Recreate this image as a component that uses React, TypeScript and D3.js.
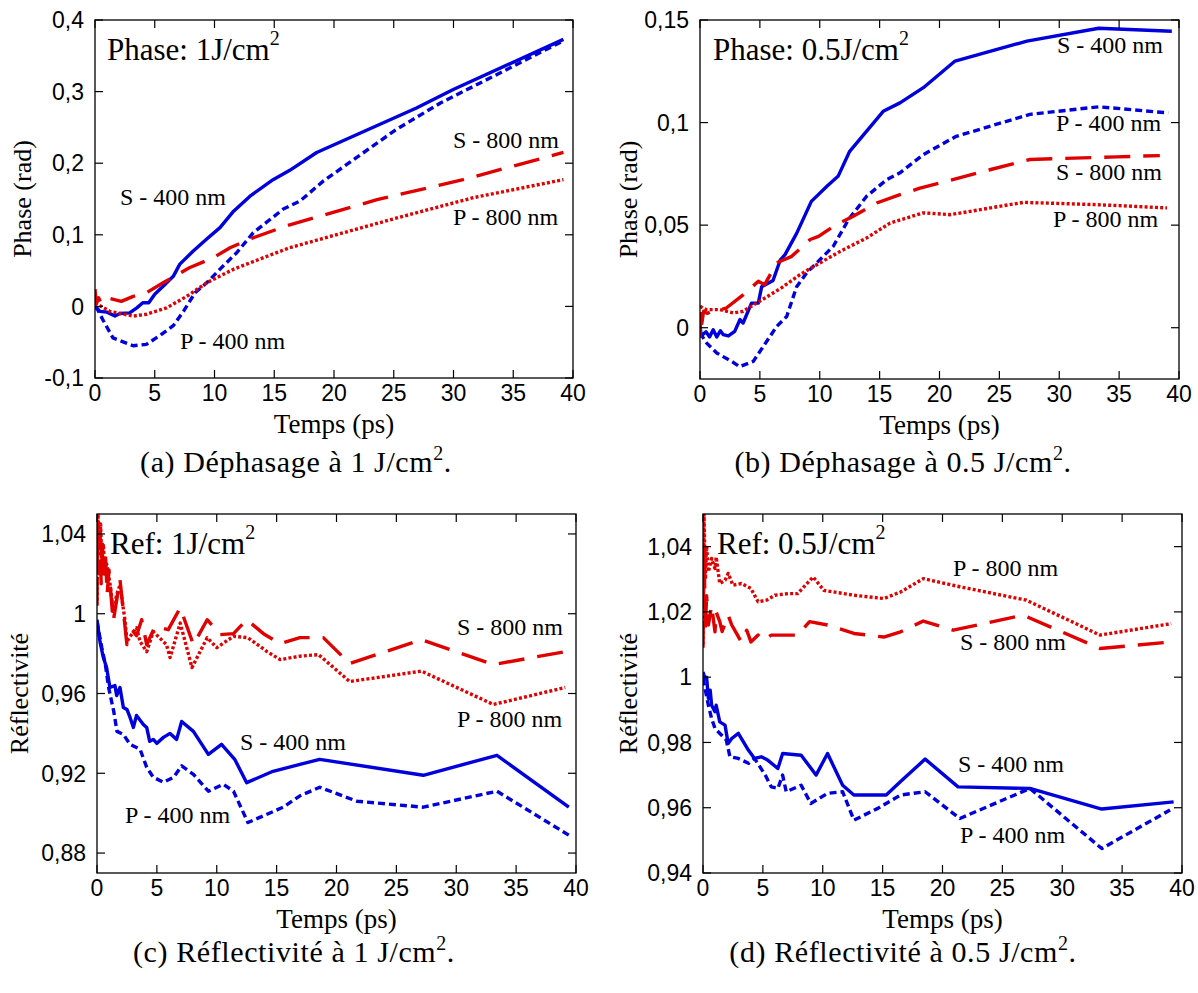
import React from 'react';
import * as d3 from 'd3';

type Pt = [number, number];

// ---------- shared axis data ----------
const X_TICKS = [0, 5, 10, 15, 20, 25, 30, 35, 40];
const X_TICK_LABELS = ['0', '5', '10', '15', '20', '25', '30', '35', '40'];

// ---------- (a) Phase 1 J/cm2 ----------
const A_Y_TICKS = [-0.1, 0, 0.1, 0.2, 0.3, 0.4];
const A_Y_LABELS = ['-0,1', '0', '0,1', '0,2', '0,3', '0,4'];
const A_S400: Pt[] = [[0, 0], [0.42, -0.007], [1.0, -0.008], [1.67, -0.0135], [2.1, -0.01], [2.9, -0.009], [3.5, -0.002], [4.0, 0.005], [4.5, 0.005], [5.0, 0.017], [5.7, 0.028], [6.55, 0.042], [7.1, 0.059], [8.2, 0.077], [9.35, 0.094], [10.46, 0.11], [11.6, 0.133], [12.97, 0.154], [14.9, 0.177], [16.3, 0.19], [18.55, 0.215], [26.9, 0.277], [29.98, 0.303], [39.2, 0.373]];
const A_P400: Pt[] = [[0, -0.002], [0.14, -0.002], [0.7, -0.02], [1.5, -0.044], [3.2, -0.055], [4.3, -0.053], [5.4, -0.041], [6.55, -0.027], [7.4, -0.007], [8.37, 0.019], [9.35, 0.033], [10.46, 0.052], [11.86, 0.075], [13.25, 0.103], [15.76, 0.136], [17.15, 0.147], [19.1, 0.175], [21.9, 0.208], [25.2, 0.247], [28.9, 0.284], [33.05, 0.319], [39.2, 0.371]];
const A_S800: Pt[] = [[0, 0.024], [0.1, 0.003], [0.3, 0.012], [0.5, 0.005], [0.8, 0.01], [1.0, 0.012], [2.2, 0.007], [3.2, 0.014], [4.3, 0.019], [5.7, 0.033], [7.9, 0.054], [9.9, 0.068], [11.3, 0.082], [13.25, 0.096], [16.3, 0.114], [23.6, 0.149], [30.8, 0.177], [39.2, 0.215]];
const A_P800: Pt[] = [[0, 0.005], [1.25, -0.007], [3.2, -0.0135], [4.3, -0.011], [6.0, -0.002], [7.67, 0.014], [9.35, 0.033], [11.6, 0.052], [14.4, 0.07], [16.3, 0.082], [24.7, 0.121], [31.7, 0.152], [39.2, 0.177]];

// ---------- (b) Phase 0.5 J/cm2 ----------
const B_Y_TICKS = [0, 0.05, 0.1, 0.15];
const B_Y_LABELS = ['0', '0,05', '0,1', '0,15'];
const B_S400: Pt[] = [[0, 0.0015], [0.1, -0.004], [0.5, -0.002], [0.8, -0.0045], [1.1, -0.001], [1.4, -0.0045], [1.7, -0.0015], [1.95, -0.0034], [2.37, -0.004], [2.9, -0.0018], [3.34, 0.004], [3.6, 0.0023], [4.3, 0.012], [4.87, 0.012], [5.15, 0.02], [6.1, 0.023], [6.7, 0.033], [7.1, 0.0356], [8.07, 0.046], [9.3, 0.0616], [10.6, 0.069], [11.55, 0.074], [12.5, 0.086], [15.3, 0.1055], [16.7, 0.1096], [18.65, 0.117], [21.3, 0.13], [27.3, 0.1397], [33.3, 0.146], [39.4, 0.1445]];
const B_P400: Pt[] = [[0, -0.0026], [0.56, -0.0075], [1.4, -0.0123], [2.8, -0.017], [3.3, -0.019], [4.45, -0.0164], [5.3, -0.009], [6.4, 0.0006], [7.24, 0.0055], [8.07, 0.02], [8.9, 0.0267], [9.75, 0.0316], [11.13, 0.0397], [12.4, 0.0527], [13.9, 0.064], [15.6, 0.0722], [16.7, 0.0755], [18.65, 0.0844], [21.4, 0.0933], [27.55, 0.104], [33.3, 0.1077], [39.1, 0.1047]];
const B_S800: Pt[] = [[0, -0.005], [0.05, 0.0096], [0.15, 0.002], [0.3, 0.008], [0.6, 0.007], [1.0, 0.008], [1.67, 0.0088], [2.2, 0.0096], [3.6, 0.016], [4.87, 0.0226], [5.4, 0.021], [6.4, 0.0316], [7.66, 0.0348], [9.2, 0.043], [9.9, 0.0445], [11.3, 0.05], [12.8, 0.0543], [14.75, 0.0608], [16.7, 0.0649], [18.37, 0.068], [20.6, 0.0714], [24.2, 0.077], [27.55, 0.082], [34.8, 0.0833], [38.4, 0.0839]];
const B_P800: Pt[] = [[0, 0.0104], [0.56, 0.0088], [1.67, 0.0088], [2.78, 0.0072], [3.6, 0.008], [4.73, 0.012], [5.85, 0.016], [6.8, 0.0194], [8.35, 0.0259], [9.75, 0.0307], [11.7, 0.0372], [13.9, 0.0437], [15.87, 0.051], [18.65, 0.056], [20.9, 0.0551], [27.0, 0.0611], [33.1, 0.06], [39.0, 0.0584]];

// ---------- (c) Reflectivity 1 J/cm2 ----------
const C_Y_TICKS = [0.88, 0.92, 0.96, 1, 1.04];
const C_Y_LABELS = ['0,88', '0,92', '0,96', '1', '1,04'];
const C_S400: Pt[] = [[0, 0.997], [0.25, 0.986], [0.53, 0.978], [0.8, 0.973], [1.08, 0.963], [1.5, 0.964], [1.64, 0.959], [1.92, 0.963], [2.2, 0.953], [2.5, 0.952], [2.76, 0.948], [3.04, 0.943], [3.3, 0.949], [3.87, 0.9445], [4.15, 0.943], [4.4, 0.936], [4.7, 0.937], [5.0, 0.935], [5.55, 0.938], [6.1, 0.94], [6.65, 0.937], [7.07, 0.946], [8.05, 0.941], [9.3, 0.9295], [10.4, 0.9345], [11.5, 0.927], [12.5, 0.9153], [14.7, 0.921], [16.95, 0.9245], [18.6, 0.927], [27.25, 0.919], [33.4, 0.929], [39.4, 0.903]];
const C_P400: Pt[] = [[0, 0.996], [0.4, 0.983], [0.7, 0.9745], [0.97, 0.963], [1.4, 0.951], [1.67, 0.941], [2.2, 0.9395], [2.76, 0.9345], [3.6, 0.932], [4.15, 0.923], [4.7, 0.918], [5.55, 0.9155], [6.4, 0.918], [7.07, 0.9237], [8.05, 0.9195], [9.3, 0.911], [10.55, 0.9145], [11.4, 0.911], [12.6, 0.8953], [15.55, 0.903], [16.95, 0.9087], [18.6, 0.913], [21.7, 0.906], [27.25, 0.903], [33.4, 0.911], [39.4, 0.889]];
const C_S800: Pt[] = [[0, 1.005], [0.05, 1.045], [0.15, 1.02], [0.25, 1.04], [0.35, 1.015], [0.45, 1.035], [0.55, 1.02], [0.7, 1.03], [0.85, 1.01], [1.0, 1.022], [1.35, 0.996], [1.92, 1.017], [2.5, 0.9845], [3.04, 0.991], [3.3, 0.989], [3.73, 0.997], [4.15, 0.9845], [4.85, 0.9937], [5.95, 0.992], [6.95, 1.003], [8.05, 0.9845], [9.2, 0.997], [10.3, 0.9895], [11.4, 0.99], [12.5, 0.997], [13.9, 0.99], [15.3, 0.985], [16.95, 0.988], [18.9, 0.988], [21.1, 0.975], [27.1, 0.987], [33.1, 0.9745], [39.1, 0.981]];
const C_P800: Pt[] = [[0, 1.004], [0.08, 1.05], [0.2, 1.03], [0.3, 1.045], [0.4, 1.025], [0.53, 1.035], [0.65, 1.02], [0.8, 1.025], [1.1, 1.0145], [1.35, 1.0012], [1.64, 1.0095], [1.92, 1.0145], [2.35, 0.996], [2.5, 0.986], [3.04, 0.991], [3.3, 0.993], [3.6, 0.986], [4.15, 0.981], [4.7, 0.991], [5.8, 0.9845], [6.1, 0.978], [6.95, 0.9953], [7.93, 0.973], [9.2, 0.988], [10.0, 0.983], [11.4, 0.9887], [12.6, 0.988], [14.2, 0.981], [15.3, 0.977], [16.95, 0.9787], [18.5, 0.9795], [21.1, 0.966], [27.1, 0.9712], [33.1, 0.9545], [39.1, 0.963]];

// ---------- (d) Reflectivity 0.5 J/cm2 ----------
const D_Y_TICKS = [0.94, 0.96, 0.98, 1, 1.02, 1.04];
const D_Y_LABELS = ['0,94', '0,96', '0,98', '1', '1,02', '1,04'];
const D_S400: Pt[] = [[0, 1.0016], [0.17, 0.9996], [0.3, 1.0], [0.45, 0.9935], [0.6, 0.996], [0.72, 0.9914], [1.0, 0.9894], [1.1, 0.9914], [1.4, 0.9863], [1.84, 0.9853], [2.1, 0.9797], [2.4, 0.9812], [2.95, 0.9828], [3.8, 0.9776], [4.3, 0.9751], [4.87, 0.9756], [5.4, 0.9746], [6.25, 0.972], [6.65, 0.9766], [8.2, 0.9761], [9.44, 0.97], [10.4, 0.9766], [11.66, 0.9669], [12.6, 0.9639], [15.3, 0.9639], [16.5, 0.968], [18.55, 0.9749], [21.3, 0.9664], [27.3, 0.9659], [33.3, 0.9596], [39.3, 0.9618]];
const D_P400: Pt[] = [[0, 0.9996], [0.45, 0.9914], [0.72, 0.9873], [1.0, 0.9843], [1.56, 0.9822], [1.95, 0.9807], [2.25, 0.9756], [2.95, 0.9751], [3.8, 0.9736], [4.3, 0.9751], [5.2, 0.97], [5.7, 0.9664], [6.25, 0.9659], [6.65, 0.97], [6.95, 0.9649], [8.2, 0.9669], [9.0, 0.9613], [10.4, 0.9644], [11.66, 0.9649], [12.6, 0.9562], [14.6, 0.9598], [16.5, 0.9639], [18.55, 0.9649], [21.45, 0.9567], [27.3, 0.9659], [33.3, 0.9475], [39.0, 0.9593]];
const D_S800: Pt[] = [[0, 1.009], [0.08, 1.04], [0.2, 1.015], [0.3, 1.025], [0.45, 1.016], [0.72, 1.022], [1.0, 1.0139], [1.1, 1.02], [1.4, 1.017], [1.6, 1.014], [2.1, 1.019], [2.4, 1.016], [2.8, 1.0134], [3.2, 1.0108], [3.65, 1.0144], [4.0, 1.0108], [4.6, 1.0129], [5.0, 1.0113], [5.7, 1.0129], [7.9, 1.0129], [8.9, 1.017], [10.4, 1.016], [12.6, 1.0134], [15.1, 1.0123], [16.5, 1.0139], [18.4, 1.0172], [20.9, 1.0144], [26.75, 1.019], [33.15, 1.0088], [39.1, 1.0108]];
const D_P800: Pt[] = [[0, 1.01], [0.08, 1.05], [0.2, 1.03], [0.3, 1.04], [0.45, 1.0323], [0.72, 1.0364], [1.0, 1.0333], [1.1, 1.0368], [1.4, 1.0287], [1.84, 1.0297], [2.1, 1.0318], [2.5, 1.0282], [3.2, 1.0287], [4.0, 1.0272], [4.6, 1.0231], [5.3, 1.0236], [6.0, 1.0251], [7.1, 1.0256], [7.9, 1.0256], [9.2, 1.0307], [10.1, 1.0266], [12.6, 1.0251], [15.1, 1.0241], [16.5, 1.0261], [18.4, 1.0302], [21.45, 1.0277], [27.0, 1.0236], [33.15, 1.0129], [39.1, 1.0164]];

// ---------- styles ----------
const BLUE = '#0000dc';
const RED = '#e00000';
const SANS = 'Liberation Sans, Arial, sans-serif';
const SERIF = 'Liberation Serif, Times New Roman, serif';

type Kind = 'S400' | 'P400' | 'S800' | 'P800';
const STYLE: Record<Kind, { color: string; dash?: string }> = {
  S400: { color: BLUE },
  P400: { color: BLUE, dash: '7,4' },
  S800: { color: RED, dash: '26,13' },
  P800: { color: RED, dash: '3,2.2' },
};

interface Label { text: string; x: number; y: number }
interface PanelCfg {
  id: string;
  box: { l: number; t: number; r: number; b: number };
  yDomain: [number, number];
  yTicks: number[];
  yLabels: string[];
  series: { kind: Kind; data: Pt[] }[];
  yTitle: string;
  yTitleX: number;
  title: { text: string; x: number; y: number };
  labels: Label[];
  caption: { pre: string; x: number; y: number };
}

const PANELS: PanelCfg[] = [
  {
    id: 'a', box: { l: 95, t: 20, r: 573, b: 378 }, yDomain: [-0.1, 0.4], yTicks: A_Y_TICKS, yLabels: A_Y_LABELS,
    series: [{ kind: 'S400', data: A_S400 }, { kind: 'P400', data: A_P400 }, { kind: 'S800', data: A_S800 }, { kind: 'P800', data: A_P800 }],
    yTitle: 'Phase (rad)', yTitleX: 22,
    title: { text: 'Phase: 1J/cm', x: 107, y: 60 },
    labels: [{ text: 'S - 400 nm', x: 120, y: 205 }, { text: 'P - 400 nm', x: 180, y: 349 }, { text: 'S - 800 nm', x: 453, y: 148 }, { text: 'P - 800 nm', x: 453, y: 225 }],
    caption: { pre: '(a) Déphasage à 1 J/cm', x: 296, y: 472 },
  },
  {
    id: 'b', box: { l: 700, t: 20, r: 1179, b: 379 }, yDomain: [-0.025, 0.15], yTicks: B_Y_TICKS, yLabels: B_Y_LABELS,
    series: [{ kind: 'S400', data: B_S400 }, { kind: 'P400', data: B_P400 }, { kind: 'S800', data: B_S800 }, { kind: 'P800', data: B_P800 }],
    yTitle: 'Phase (rad)', yTitleX: 628,
    title: { text: 'Phase: 0.5J/cm', x: 713, y: 60 },
    labels: [{ text: 'S - 400 nm', x: 1057, y: 53 }, { text: 'P - 400 nm', x: 1056, y: 131 }, { text: 'S - 800 nm', x: 1056, y: 180 }, { text: 'P - 800 nm', x: 1053, y: 227 }],
    caption: { pre: '(b) Déphasage à 0.5 J/cm', x: 903, y: 472 },
  },
  {
    id: 'c', box: { l: 97, t: 514, r: 576, b: 873 }, yDomain: [0.87, 1.05], yTicks: C_Y_TICKS, yLabels: C_Y_LABELS,
    series: [{ kind: 'S400', data: C_S400 }, { kind: 'P400', data: C_P400 }, { kind: 'S800', data: C_S800 }, { kind: 'P800', data: C_P800 }],
    yTitle: 'Réflectivité', yTitleX: 19,
    title: { text: 'Ref: 1J/cm', x: 110, y: 554 },
    labels: [{ text: 'S - 400 nm', x: 240, y: 750 }, { text: 'P - 400 nm', x: 125, y: 823 }, { text: 'S - 800 nm', x: 457, y: 635 }, { text: 'P - 800 nm', x: 457, y: 727 }],
    caption: { pre: '(c) Réflectivité à 1 J/cm', x: 294, y: 962 },
  },
  {
    id: 'd', box: { l: 703, t: 514, r: 1182, b: 873 }, yDomain: [0.94, 1.05], yTicks: D_Y_TICKS, yLabels: D_Y_LABELS,
    series: [{ kind: 'S400', data: D_S400 }, { kind: 'P400', data: D_P400 }, { kind: 'S800', data: D_S800 }, { kind: 'P800', data: D_P800 }],
    yTitle: 'Réflectivité', yTitleX: 628,
    title: { text: 'Ref: 0.5J/cm', x: 717, y: 554 },
    labels: [{ text: 'P - 800 nm', x: 953, y: 576 }, { text: 'S - 800 nm', x: 960, y: 650 }, { text: 'S - 400 nm', x: 958, y: 772 }, { text: 'P - 400 nm', x: 960, y: 843 }],
    caption: { pre: '(d) Réflectivité à 0.5 J/cm', x: 903, y: 962 },
  },
];

const TICK = 8;

function Panel({ cfg }: { cfg: PanelCfg }) {
  const { box } = cfg;
  const x = d3.scaleLinear().domain([0, 40]).range([box.l, box.r]);
  const y = d3.scaleLinear().domain(cfg.yDomain).range([box.b, box.t]);
  const line = d3.line<Pt>().x((d) => x(d[0])).y((d) => y(d[1]));
  const clipId = `clip-${cfg.id}`;
  const cx = (box.l + box.r) / 2;
  const cy = (box.t + box.b) / 2;
  return (
    <g>
      <defs>
        <clipPath id={clipId}>
          <rect x={box.l} y={box.t} width={box.r - box.l} height={box.b - box.t} />
        </clipPath>
      </defs>
      <g clipPath={`url(#${clipId})`}>
        {cfg.series.map((s) => (
          <path
            key={s.kind}
            d={line(s.data) || ''}
            fill="none"
            stroke={STYLE[s.kind].color}
            strokeWidth={3.4}
            strokeDasharray={STYLE[s.kind].dash}
            strokeLinejoin="round"
          />
        ))}
      </g>
      <rect x={box.l} y={box.t} width={box.r - box.l} height={box.b - box.t} fill="none" stroke="#000" strokeWidth={1.3} />
      {X_TICKS.map((t, i) => (
        <g key={`x${i}`}>
          <line x1={x(t)} x2={x(t)} y1={box.b} y2={box.b - TICK} stroke="#000" strokeWidth={1.2} />
          <line x1={x(t)} x2={x(t)} y1={box.t} y2={box.t + TICK} stroke="#000" strokeWidth={1.2} />
          <text x={x(t)} y={box.b + 23} textAnchor="middle" fontFamily={SANS} fontSize={23}>{X_TICK_LABELS[i]}</text>
        </g>
      ))}
      {cfg.yTicks.map((v, i) => (
        <g key={`y${i}`}>
          <line x1={box.l} x2={box.l + TICK} y1={y(v)} y2={y(v)} stroke="#000" strokeWidth={1.2} />
          <line x1={box.r} x2={box.r - TICK} y1={y(v)} y2={y(v)} stroke="#000" strokeWidth={1.2} />
          <text x={box.l - 11} y={y(v)} dy="0.36em" textAnchor="end" fontFamily={SANS} fontSize={23}>{cfg.yLabels[i]}</text>
        </g>
      ))}
      <text x={cx} y={box.b + 55} textAnchor="middle" fontFamily={SERIF} fontSize={27}>Temps (ps)</text>
      <text transform={`translate(${cfg.yTitleX},${cy}) rotate(-90)`} textAnchor="middle" dy="0.35em" fontFamily={SERIF} fontSize={26}>{cfg.yTitle}</text>
      <text x={cfg.title.x} y={cfg.title.y} fontFamily={SERIF} fontSize={31}>
        {cfg.title.text}
        <tspan fontSize={20} dy={-15}>2</tspan>
      </text>
      {cfg.labels.map((l, i) => (
        <text key={`l${i}`} x={l.x} y={l.y} fontFamily={SERIF} fontSize={24}>{l.text}</text>
      ))}
      <text x={cfg.caption.x} y={cfg.caption.y} textAnchor="middle" fontFamily={SERIF} fontSize={30} letterSpacing={0.6}>
        {cfg.caption.pre}
        <tspan fontSize={20} dy={-12}>2</tspan>
        <tspan dy={12}>.</tspan>
      </text>
    </g>
  );
}

export default function App() {
  return (
    <svg width={1198} height={993} style={{ position: 'absolute', left: 0, top: 0, background: '#fff' }}>
      <rect width={1198} height={993} fill="#fff" />
      {PANELS.map((p) => (
        <Panel key={p.id} cfg={p} />
      ))}
    </svg>
  );
}
